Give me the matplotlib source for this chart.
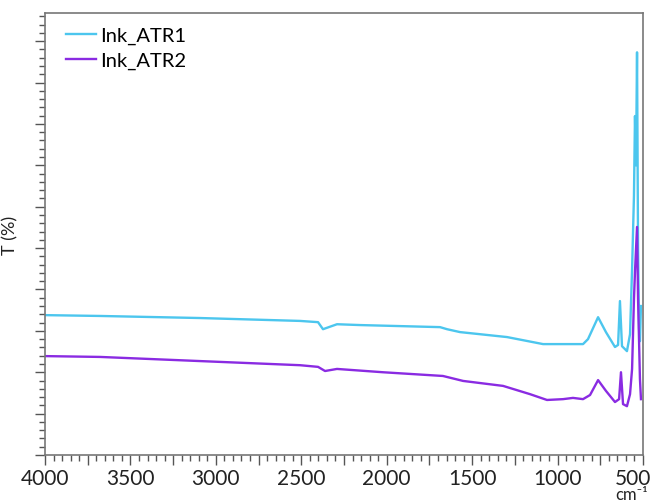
import matplotlib

matplotlib.use("Agg")

import matplotlib.pyplot as plt  # noqa: E402
from matplotlib.ticker import FuncFormatter, MultipleLocator  # noqa: E402


# wavenumber (cm-1) and transmittance (arbitrary offset units)
atr1_wn = [4000, 3678, 3093, 2507, 2402, 2373, 2291, 2156, 1688, 1647, 1571,
           1296, 1085, 927, 851, 822, 763, 717, 664, 646, 635, 623, 594, 576,
           564, 553, 547, 541, 535, 529, 523, 518, 512]
atr1_t = [33.8, 33.6, 33.1, 32.4, 32.1, 30.4, 31.6, 31.4, 30.9, 30.4, 29.7,
          28.5, 26.8, 26.8, 26.8, 28.0, 33.3, 29.7, 26.1, 26.6, 37.2, 26.3,
          25.1, 29.2, 44.9, 62.6, 81.9, 70.0, 97.3, 49.8, 30.4, 27.5, 36.0]

atr2_wn = [4000, 3678, 3093, 2507, 2402, 2361, 2291, 2022, 1671, 1553, 1319,
           1161, 1062, 968, 910, 851, 810, 763, 717, 664, 640, 629, 617, 594,
           576, 564, 553, 547, 535, 529, 518, 512]
atr2_t = [23.9, 23.7, 22.7, 21.7, 21.3, 20.3, 20.8, 20.0, 19.1, 17.9, 16.7,
          14.7, 13.3, 13.5, 13.8, 13.5, 14.5, 18.1, 15.5, 12.8, 13.5, 20.0,
          12.3, 11.8, 14.7, 20.8, 37.7, 44.2, 55.1, 37.7, 18.4, 13.5]

series_names = ["Ink_ATR1", "Ink_ATR2"]
series_colors = ["#4cc6ee", "#8a2be2"]

plt.rcParams["font.family"] = ["Lato", "DejaVu Sans"]


def _xlabel(value, _pos):
    # labels every 500, but the last one is drawn by hand so it stays inside
    if value % 500 != 0 or value == 500:
        return ""
    return f"{value:.0f}"


def main() -> None:
    fig = plt.figure(figsize=(6.55, 5.02), dpi=100)
    ax = fig.add_axes([0.0687, 0.0916, 0.913, 0.8805])

    ax.plot(atr1_wn, atr1_t, color=series_colors[0], lw=1.7,
            label=series_names[0])
    ax.plot(atr2_wn, atr2_t, color=series_colors[1], lw=1.7,
            label=series_names[1])

    ax.set_xlim(4000, 500)
    ax.set_ylim(0, 106.8)

    ax.xaxis.set_major_locator(MultipleLocator(250))
    ax.xaxis.set_minor_locator(MultipleLocator(50))
    ax.xaxis.set_major_formatter(FuncFormatter(_xlabel))
    ax.yaxis.set_major_locator(MultipleLocator(10))
    ax.yaxis.set_minor_locator(MultipleLocator(2))
    ax.set_yticklabels([])

    ax.tick_params(which="major", direction="out", length=7, width=1,
                   color="#555555", labelsize=15, labelcolor="#222222", pad=2)
    ax.tick_params(which="minor", direction="out", length=4, width=1,
                   color="#555555")
    for spine in ax.spines.values():
        spine.set_color("#777777")
        spine.set_linewidth(1.2)

    ax.annotate("500", xy=(500, 0), xycoords="data", xytext=(-7, -9),
                textcoords="offset points", ha="center", va="top",
                fontsize=15, color="#222222", annotation_clip=False)

    ax.set_ylabel("T (%)", fontsize=13, color="#222222")
    ax.yaxis.set_label_coords(-0.045, 0.5)
    fig.text(0.964, -0.002, "cm⁻¹", fontsize=12, color="#222222",
             ha="center", va="bottom")

    ax.legend(loc="upper left", frameon=False, fontsize=14.5,
              handlelength=1.5, handletextpad=0.2, labelspacing=0.35,
              borderaxespad=0.3, bbox_to_anchor=(0.012, 1.0))

    fig.savefig("out.png", dpi=100)
    plt.close(fig)


if __name__ == "__main__":
    main()
